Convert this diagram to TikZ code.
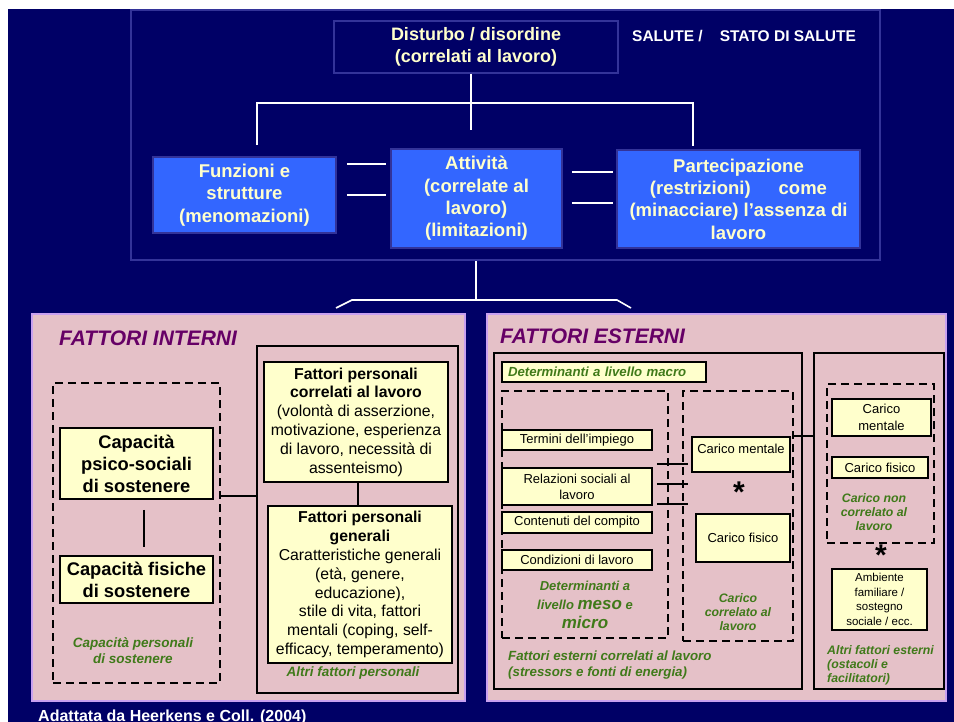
\documentclass[tikz,border=0pt]{standalone}
\usepackage{fontspec}
\setmainfont{Liberation Sans}
\definecolor{navy}{RGB}{0,0,102}
\definecolor{frameblue}{RGB}{51,51,153}
\definecolor{boxblue}{RGB}{51,102,255}
\definecolor{cream}{RGB}{255,255,204}
\definecolor{pinkbg}{RGB}{229,193,200}
\definecolor{lavender}{RGB}{200,160,240}
\definecolor{gtxt}{RGB}{64,122,26}
\definecolor{ptitle}{RGB}{102,0,102}
\newcommand{\fsz}[2]{\fontsize{#1}{#2}\selectfont}
\begin{document}
\begin{tikzpicture}[x=1pt,y=-1pt,
  sz/.style 2 args={minimum width=#1pt, minimum height=#2pt},
  wline/.style={white, line width=1.6pt},
  bline/.style={black, line width=1.5pt},
  bluebox/.style={fill=boxblue, draw=frameblue, line width=1.5pt, text=cream, font=\bfseries\fsz{18.5}{22.4}, align=center, inner sep=0pt},
  crbox/.style={fill=cream, draw=black, line width=1.5pt, inner sep=0pt, align=center, font=\fsz{13}{16}},
  dashbox/.style={draw=black, line width=1.6pt, dash pattern=on 8pt off 5pt, inner sep=0pt},
  solbox/.style={draw=black, line width=1.5pt, inner sep=0pt},
  glabel/.style={text=gtxt, font=\bfseries\itshape\fsz{12.3}{14}, align=center, inner sep=0pt},
  panel/.style={fill=pinkbg, draw=lavender, line width=2.5pt, inner sep=0pt},
  ptitlestyle/.style={anchor=west, text=ptitle, font=\bfseries\itshape\fsz{21}{24}, inner sep=0pt},
  ast/.style={inner sep=0pt, text depth=-12pt, font=\bfseries\fsz{30}{30}}
]
% background
\fill[white] (0,0) rectangle (954,722);
\fill[navy] (8,9) rectangle (954,722);
\useasboundingbox (0,0) rectangle (954,722);

% ---------- top section ----------
\node[draw=frameblue, line width=2.5pt, sz={749}{250}, inner sep=0pt] (topframe) at (505.5,135) {};
\node[fill=navy, draw=frameblue, line width=1.5pt, sz={284}{52}, text=cream, font=\bfseries\fsz{18}{22.4}, align=center, inner sep=0pt] (dist) at (476,47) {Disturbo / disordine\\(correlati al lavoro)};
\node[anchor=base west, text=white, font=\bfseries\fsz{15.5}{18}, inner sep=0pt] (sal) at (632,41.5) {SALUTE /\hspace{17pt}STATO DI SALUTE};

\node[bluebox, sz={183}{76}] (fun) at (244.5,195) {Funzioni e\\strutture\\(menomazioni)};
\node[bluebox, sz={171}{99}] (att) at (476.5,198.5) {Attività\\(correlate al\\lavoro)\\(limitazioni)};
\node[bluebox, sz={243}{98}] (par) at (738.5,199) {Partecipazione\\(restrizioni)\hspace{28pt}come\\(minacciare) l’assenza di\\lavoro};

\coordinate (hub) at (471,103);
\coordinate (hubend) at (471,130);
\coordinate (lturn) at (257,103);
\coordinate (rturn) at (693,103);
\draw[wline] (dist.south -| hub) -- (hubend);
\draw[wline] (fun.north -| lturn) ++(0,-11) -- (lturn) -- (rturn) -- ++(0,43);

\draw[wline, shorten <=10pt, shorten >=4pt] (fun.east |- 0,164) -- (att.west |- 0,164);
\draw[wline, shorten <=10pt, shorten >=4pt] (fun.east |- 0,195) -- (att.west |- 0,195);
\draw[wline, shorten <=9pt, shorten >=3pt] (att.east |- 0,172) -- (par.west |- 0,172);
\draw[wline, shorten <=9pt, shorten >=3pt] (att.east |- 0,203) -- (par.west |- 0,203);

% link to lower panels
\coordinate (bhub) at (476,300);
\coordinate (lfoot) at (336,308);
\coordinate (rfoot) at (631,308);
\draw[wline] (topframe.south -| bhub) -- (bhub);
\draw[wline] (lfoot) -- (352,300) -- (617,300) -- (rfoot);

% ---------- panels ----------
\node[panel, sz={433}{387}] (lpanel) at (248.5,507.5) {};
\node[panel, sz={459}{387}] (rpanel) at (716.5,507.5) {};
\node[ptitlestyle] (tint) at (59,338) {FATTORI INTERNI};
\node[ptitlestyle] (text) at (500,336) {FATTORI ESTERNI};

% ---------- left panel ----------
\node[dashbox, sz={167}{300}] (capd) at (136.5,533) {};
\node[crbox, sz={153}{71}, font=\bfseries\fsz{18.3}{22}] (psico) at (136.5,463.5) {Capacità\\psico-sociali\\di sostenere};
\node[crbox, sz={153}{47}, font=\bfseries\fsz{18.3}{22}] (fis) at (136.5,579.5) {Capacità fisiche\\di sostenere};
\draw[bline, shorten <=10pt, shorten >=8pt] (psico.south -| 144,0) -- (fis.north -| 144,0);
\node[glabel, font=\bfseries\itshape\fsz{13.5}{16}] (cpl) at (133,651) {Capacità personali\\di sostenere};

\node[solbox, sz={201}{347}] (altri) at (357.5,519.5) {};
\draw[bline] (capd.east |- 0,496) -- (altri.west |- 0,496);
\node[crbox, sz={184}{120}, font=\fsz{15.8}{18.8}] (fpc) at (356,422) {\textbf{Fattori personali}\\\textbf{correlati al lavoro}\\(volontà di asserzione,\\motivazione, esperienza\\di lavoro, necessità di\\assenteismo)};
\node[crbox, sz={184}{157}, font=\fsz{15.8}{18.9}] (fpg) at (360,584.5) {\textbf{Fattori personali}\\\textbf{generali}\\Caratteristiche generali\\(età, genere,\\educazione),\\stile di vita, fattori\\mentali (coping, self-\\efficacy, temperamento)};
\draw[bline] (fpc.south -| 358,0) -- (fpg.north -| 358,0);
\node[glabel, font=\bfseries\itshape\fsz{13.5}{16}] (afp) at (353,673) {Altri fattori personali};

% ---------- right panel ----------
\node[solbox, sz={308}{336}] (ext) at (648,521) {};
\node[solbox, sz={130}{336}] (oth) at (879,521) {};
\node[crbox, sz={204}{20}, text width=192pt, align=left, inner xsep=6pt, text=gtxt, font=\bfseries\itshape\fsz{13.2}{15}] (macro) at (604,372) {Determinanti a livello macro};

\node[dashbox, sz={166}{247}] (meso) at (585,514.5) {};
\node[dashbox, sz={110}{250}] (cardash) at (738,516) {};
\node[crbox, sz={150}{20}] (term) at (577,440) {Termini dell’impiego};
\node[crbox, sz={150}{37}] (rel) at (577,486.5) {Relazioni sociali al\\lavoro};
\node[crbox, sz={150}{21}] (cont) at (577,522.5) {Contenuti del compito};
\node[crbox, sz={150}{20}] (cond) at (577,560) {Condizioni di lavoro};
\node[glabel, font=\bfseries\itshape\fsz{13}{19}] (mesol) at (585,605) {Determinanti a\\livello {\fsz{17}{19}meso} e\\{\fsz{17}{19}micro}};

\foreach \yy in {464,484,504}
  \draw[bline, shorten <=4pt, shorten >=-6pt] (rel.east |- 0,\yy) -- (cardash.west |- 0,\yy);

\node[crbox, sz={98}{35}, text depth=12pt] (cm) at (741,454.5) {Carico mentale};
\node[ast] (ast1) at (739,492) {*};
\node[crbox, sz={94}{48}] (cf) at (743,538) {Carico fisico};
\node[glabel] (carl) at (738,612) {Carico\\correlato al\\lavoro};
\node[glabel, align=left, anchor=west, font=\bfseries\itshape\fsz{13.3}{16}] (fecl) at (508,665) {Fattori esterni correlati al lavoro\\(stressors e fonti di energia)};

\draw[bline] (cardash.east |- 0,436) -- (oth.west |- 0,436);

\node[dashbox, sz={107}{159}] (nond) at (880.5,463.5) {};
\node[crbox, sz={99}{37}, font=\fsz{13}{17}] (cm2) at (881.5,417.5) {Carico\\mentale};
\node[crbox, sz={96}{21}] (cf2) at (880,467.5) {Carico fisico};
\node[glabel] (nonl) at (874,512) {Carico non\\correlato al\\lavoro};
\node[ast] (ast2) at (881,555) {*};
\node[crbox, sz={95}{61}, font=\fsz{11.5}{14.7}] (amb) at (879.5,599.5) {Ambiente\\familiare /\\sostegno\\sociale / ecc.};
\node[glabel, align=left, anchor=west] (afe) at (827,665) {Altri fattori esterni\\(ostacoli e\\facilitatori)};

% footer
\node[anchor=base west, text=white, font=\bfseries\fsz{16}{18}, inner sep=0pt] (foot) at (38,721.5) {Adattata da Heerkens e Coll. (2004)};
\end{tikzpicture}
\end{document}
